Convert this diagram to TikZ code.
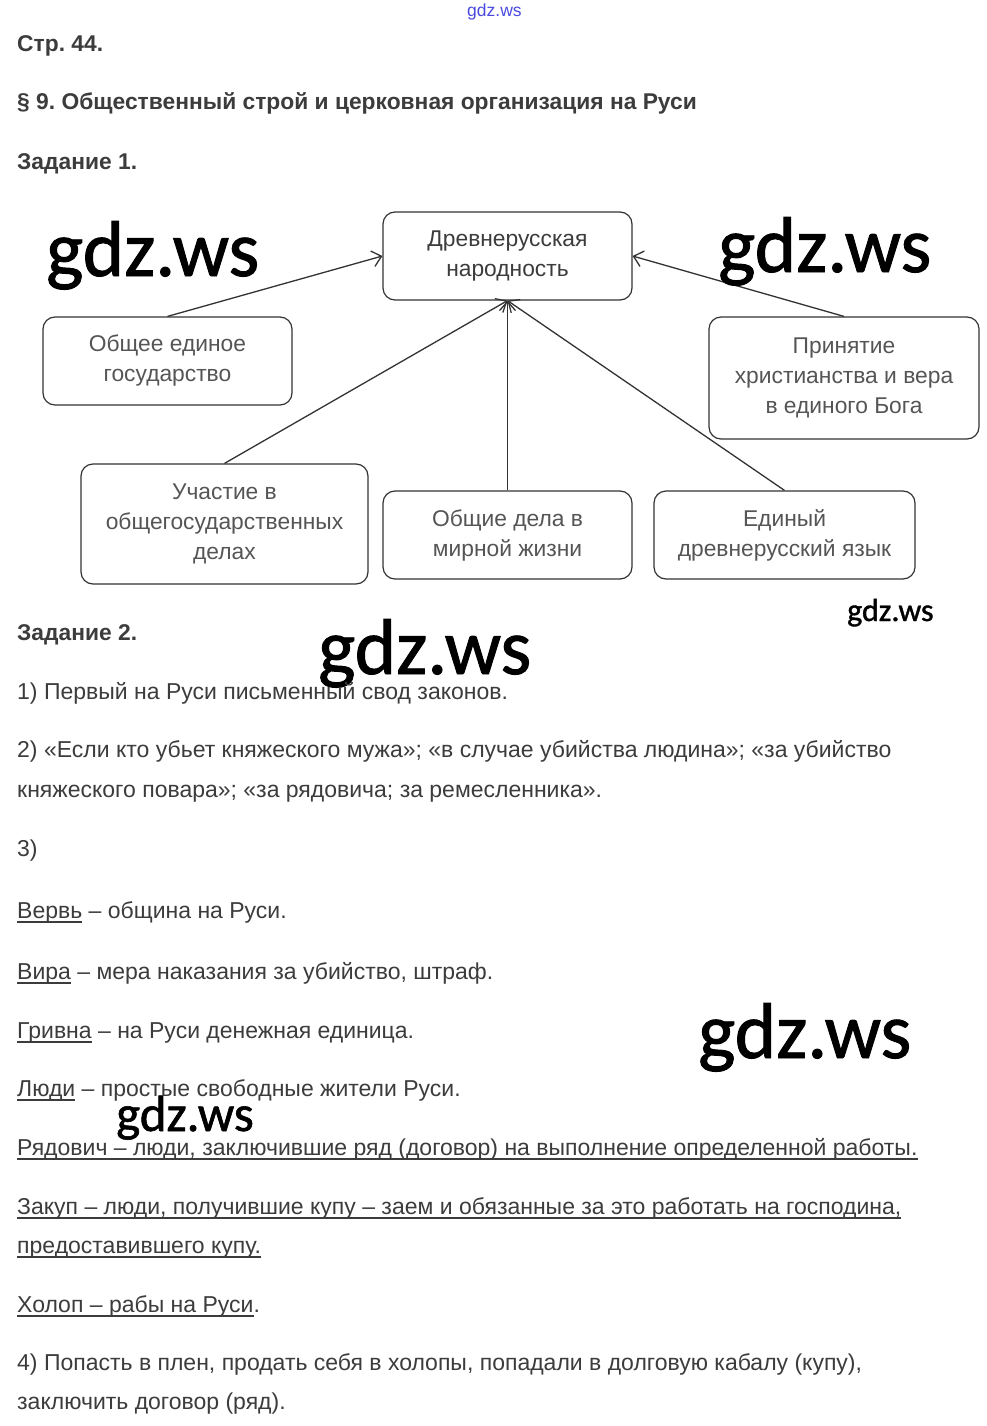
\documentclass[tikz,border=0pt]{standalone}
\usepackage{fontspec}
\setmainfont{Liberation Sans}
\newfontfamily\wmfont[FakeBold=1.2]{Carlito}
\usetikzlibrary{arrows.meta}
\definecolor{txt}{HTML}{3C3C3C}
\definecolor{boxtxt}{HTML}{555555}
\definecolor{lc}{HTML}{333333}
\definecolor{wmblue}{HTML}{4A4AE0}
\newsavebox\ulbox
\newcommand\myul[1]{\sbox\ulbox{#1}\rlap{\color{txt}\rule[-4.5pt]{\wd\ulbox}{1.3pt}}\usebox\ulbox}
\frenchspacing
\begin{document}
\begin{tikzpicture}[x=1pt,y=-1pt,
  txtline/.style={anchor=base west, inner sep=0pt, text=txt, font=\fontsize{23}{26}\selectfont},
  head/.style={anchor=base west, inner sep=0pt, text=txt, font=\fontsize{22.8}{26}\selectfont\bfseries},
  box/.style={draw=lc, line width=1.2pt, rounded corners=12pt, align=center, text=boxtxt,
    font=\fontsize{22.8}{30}\selectfont, inner sep=0pt},
  arr/.style={draw=lc, line width=1.3pt, -{Straight Barb[length=9pt,width=16pt,line width=1.3pt]}},
  wm/.style={anchor=base west, inner sep=0pt, text=black}
]
\path[fill=white] (0,0) rectangle (987,1426);
\useasboundingbox (0,0) rectangle (987,1426);

% top small watermark
\node[anchor=base west, inner sep=0pt, text=wmblue, font=\fontsize{17.5}{19}\selectfont] (wm0) at (467,17) {gdz.ws};

% headings
\node[head] (h1) at (17,52) {Стр. 44.};
\node[head] (h2) at (17,110) {§ 9. Общественный строй и церковная организация на Руси};
\node[head] (h3) at (17,169) {Задание 1.};

% diagram
\node[box, minimum width=249pt, minimum height=88pt, text=txt] (top) at (507.5,256) {Древнерусская\\народность};
\node[box, minimum width=249pt, minimum height=88pt] (left) at (167.5,361) {Общее единое\\государство};
\node[box, minimum width=270pt, minimum height=122pt] (right) at (844,378) {Принятие\\христианства и вера\\в единого Бога};
\node[box, minimum width=287pt, minimum height=120pt] (bl) at (224.5,524) {Участие в\\общегосударственных\\делах};
\node[box, minimum width=249pt, minimum height=88pt] (bm) at (507.5,535) {Общие дела в\\мирной жизни};
\node[box, minimum width=261pt, minimum height=88pt] (br) at (784.5,535) {Единый\\древнерусский язык};

\draw[arr] (left.north) -- (top.west);
\draw[arr] (right.north) -- (top.east);
\draw[arr] (bl.north) -- (top.south);
\draw[arr] (bm.north) -- (top.south);
\draw[arr] (br.north) -- (top.south);

% watermarks
\node[wm, font=\wmfont\fontsize{79}{84}\selectfont] (wm1) at (46,276) {gdz.ws};
\node[wm, font=\wmfont\fontsize{79}{84}\selectfont] (wm2) at (718,272) {gdz.ws};
\node[wm, font=\wmfont\fontsize{32}{35}\selectfont] (wm3) at (847,621) {gdz.ws};
\node[wm, font=\wmfont\fontsize{79}{84}\selectfont] (wm4) at (318,674) {gdz.ws};
\node[wm, font=\wmfont\fontsize{79}{84}\selectfont] (wm5) at (698,1058) {gdz.ws};
\node[wm, font=\wmfont\fontsize{51}{56}\selectfont] (wm6) at (116,1131) {gdz.ws};

% task 2
\node[head] (h4) at (17,640) {Задание 2.};
\node[txtline] (l1) at (17,699) {1) Первый на Руси письменный свод законов.};
\node[txtline] (l2) at (17,757) {2) «Если кто убьет княжеского мужа»; «в случае убийства людина»; «за убийство};
\node[txtline] (l3) at (17,797) {княжеского повара»; «за рядовича; за ремесленника».};
\node[txtline] (l4) at (17,856) {3)};
\node[txtline] (l5) at (17,918) {\myul{Вервь} – община на Руси.};
\node[txtline] (l6) at (17,979) {\myul{Вира} – мера наказания за убийство, штраф.};
\node[txtline] (l7) at (17,1038) {\myul{Гривна} – на Руси денежная единица.};
\node[txtline] (l8) at (17,1096) {\myul{Люди} – простые свободные жители Руси.};
\node[txtline] (l9) at (17,1155) {\myul{Рядович – люди, заключившие ряд (договор) на выполнение определенной работы.}};
\node[txtline] (l10) at (17,1214) {\myul{Закуп – люди, получившие купу – заем и обязанные за это работать на господина,}};
\node[txtline] (l11) at (17,1253) {\myul{предоставившего купу.}};
\node[txtline] (l12) at (17,1312) {\myul{Холоп – рабы на Руси}.};
\node[txtline] (l13) at (17,1370) {4) Попасть в плен, продать себя в холопы, попадали в долговую кабалу (купу),};
\node[txtline] (l14) at (17,1409) {заключить договор (ряд).};
\end{tikzpicture}
\end{document}
